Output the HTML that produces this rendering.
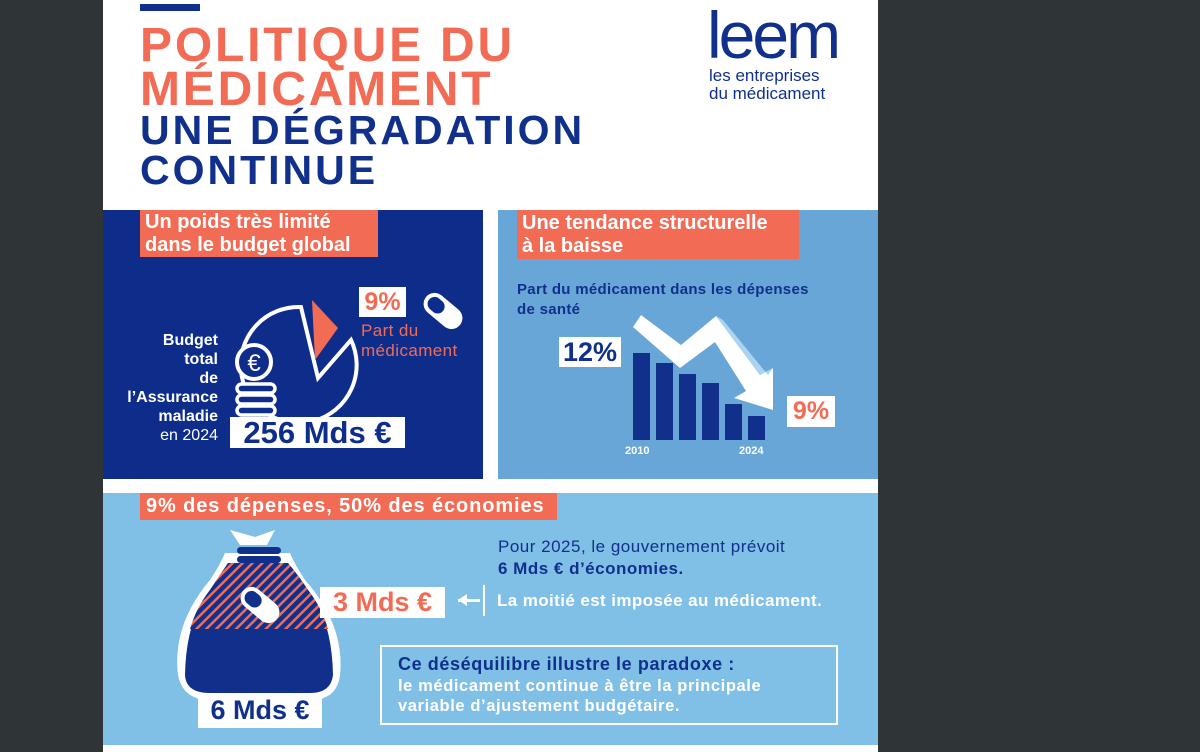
<!DOCTYPE html>
<html><head><meta charset="utf-8"><style>
*{margin:0;padding:0;box-sizing:border-box}
body{width:1200px;height:752px;background:#2f3437;position:relative;overflow:hidden;font-family:"Liberation Sans",sans-serif}
.a{position:absolute}
.page{left:103px;top:0;width:775px;height:752px;background:#fff}
.t{font-weight:bold;line-height:1;white-space:nowrap}
.wb{background:#fff;font-weight:bold;line-height:1;text-align:center}
</style></head><body>
<div class="a page"></div>
<div class="a" style="left:140px;top:4px;width:60px;height:7px;background:#10308c"></div>
<div class="a t" style="left:140px;top:22px;font-size:48px;color:#f26b55;letter-spacing:2.8px">POLITIQUE DU</div>
<div class="a t" style="left:140px;top:66px;font-size:48px;color:#f26b55;letter-spacing:2.8px">MÉDICAMENT</div>
<div class="a t" style="left:140px;top:110px;font-size:41px;color:#10308c;letter-spacing:3px">UNE DÉGRADATION</div>
<div class="a t" style="left:140px;top:150px;font-size:41px;color:#10308c;letter-spacing:3px">CONTINUE</div>
<div class="a" style="left:707px;top:2px;font-size:66px;color:#10308c;letter-spacing:-3px;line-height:1">leem</div>
<div class="a" style="left:709px;top:67px;font-size:17px;color:#10308c;line-height:18px">les entreprises<br>du médicament</div>

<!-- box1 -->
<div class="a" style="left:103px;top:210px;width:380px;height:269px;background:#0e2d8b"></div>
<div class="a" style="left:140px;top:210px;width:238px;height:47px;background:#f26b55"></div>
<div class="a t" style="left:145px;top:211px;font-size:20px;color:#fff;line-height:23px">Un poids très limité<br>dans le budget global</div>
<div class="a" style="left:110px;top:331px;width:108px;text-align:right;color:#fff;font-size:16px;line-height:19px"><b>Budget<br>total<br>de<br>l’Assurance<br>maladie</b><br>en 2024</div>
<svg class="a" style="left:103px;top:210px" width="380" height="269">
<path d="M198 97 A58 58 0 1 0 248 130 L215 168 Z" fill="none" stroke="#fff" stroke-width="4"/>
<path d="M209 90 L235 118 L212 150 Z" fill="#f26b55"/>
<circle cx="151" cy="152" r="17" fill="#0e2d8b" stroke="#fff" stroke-width="4"/>
<text x="151" y="161" font-size="24" fill="#fff" text-anchor="middle" font-family="Liberation Sans">€</text>
<g fill="#0e2d8b" stroke="#fff" stroke-width="3.5"><rect x="134" y="174" width="38" height="9" rx="4.5"/><rect x="134" y="185" width="38" height="9" rx="4.5"/><rect x="134" y="196" width="38" height="9" rx="4.5"/></g>
<g transform="translate(340,101) rotate(40)"><rect x="-22" y="-11" width="44" height="22" rx="11" fill="#fff"/><rect x="-18" y="-7" width="18" height="14" rx="7" fill="#0e2d8b"/></g>
</svg>
<div class="a wb" style="left:230px;top:417px;width:175px;height:31px;font-size:31px;color:#0e2d8b;line-height:31px">256 Mds €</div>
<div class="a wb" style="left:359px;top:287px;width:47px;height:30px;font-size:25px;color:#f26b55;line-height:30px">9%</div>
<div class="a" style="left:361px;top:321px;font-size:17px;line-height:20px;color:#f26b55;letter-spacing:.4px">Part du<br>médicament</div>

<!-- box2 -->
<div class="a" style="left:498px;top:210px;width:380px;height:269px;background:#68a6d8"></div>
<div class="a" style="left:517px;top:210px;width:282px;height:49px;background:#f26b55"></div>
<div class="a t" style="left:522px;top:212px;font-size:20px;color:#fff;line-height:23px">Une tendance structurelle<br>à la baisse</div>
<div class="a t" style="left:517px;top:280px;font-size:15px;color:#10308c;line-height:20px;letter-spacing:.3px">Part du médicament dans les dépenses<br>de santé</div>
<svg class="a" style="left:498px;top:210px" width="380" height="269">
<g fill="#10308c"><rect x="135" y="143" width="17" height="87"/><rect x="158" y="153" width="17" height="77"/><rect x="181" y="164" width="17" height="66"/><rect x="204" y="173" width="17" height="57"/><rect x="227" y="194" width="17" height="36"/><rect x="250" y="206" width="17" height="24"/></g>
<path d="M135 117 L143 105 L183 135 L218 106 L262 165 L275 158 L275 200 L236 188 L248 181 L217 132 L182 158 Z" fill="#fff"/>
<path d="M218 106 L225 110 L270 165 L275 158 L262 165 Z" fill="#a8d4f0"/>
<text x="127" y="244" font-size="11" font-weight="bold" fill="#fff" font-family="Liberation Sans">2010</text>
<text x="241" y="244" font-size="11" font-weight="bold" fill="#fff" font-family="Liberation Sans">2024</text>
</svg>
<div class="a wb" style="left:559px;top:337px;width:62px;height:30px;font-size:27px;color:#10308c;line-height:30px">12%</div>
<div class="a wb" style="left:787px;top:396px;width:48px;height:31px;font-size:25px;color:#f26b55;line-height:31px">9%</div>

<!-- box3 -->
<div class="a" style="left:103px;top:493px;width:775px;height:252px;background:#80c0e6"></div>
<div class="a" style="left:140px;top:493px;width:417px;height:27px;background:#f26b55"></div>
<div class="a t" style="left:146px;top:495px;font-size:20px;color:#fff;line-height:23px;letter-spacing:.9px">9% des dépenses, 50% des économies</div>
<svg class="a" style="left:170px;top:525px" width="180" height="190">
<defs><pattern id="h" width="7" height="7" patternUnits="userSpaceOnUse" patternTransform="rotate(45)"><rect width="7" height="7" fill="#10308c"/><rect width="2.5" height="7" fill="#f26b55"/></pattern></defs>
<path d="M60 5 L85 12 L105 5 L97 20 L70 20 Z" fill="#fff"/>
<path d="M55 28 Q50 40 40 55 Q2 100 8 150 Q13 175 40 175 L140 175 Q167 175 170 150 Q175 100 135 55 Q125 40 120 28 Z" fill="#fff"/>
<path d="M58 38 L118 38 Q128 50 138 65 Q162 95 163 150 Q161 168 140 168 L40 168 Q16 168 15 150 Q16 95 40 65 Q50 50 58 38 Z" fill="#10308c"/>
<path d="M58 38 L118 38 Q128 50 138 65 Q152 83 158 104 L20 104 Q26 83 40 65 Q50 50 58 38 Z" fill="url(#h)"/>
<rect x="67" y="22" width="44" height="7" rx="3.5" fill="#10308c"/><rect x="67" y="31" width="44" height="7" rx="3.5" fill="#10308c"/>
<g transform="translate(90,80) rotate(40)"><rect x="-22" y="-11" width="44" height="22" rx="11" fill="#fff"/><rect x="-18" y="-7" width="18" height="14" rx="7" fill="#10308c"/></g>
</svg>
<div class="a wb" style="left:198px;top:693px;width:124px;height:35px;font-size:27px;color:#10308c;line-height:35px">6 Mds €</div>
<div class="a wb" style="left:320px;top:587px;width:125px;height:31px;font-size:27px;color:#f26b55;line-height:31px">3 Mds €</div>
<div class="a" style="left:458px;top:599px;width:22px;height:3px;background:#fff"></div>
<div class="a" style="left:458px;top:594px;width:0;height:0;border-right:9px solid #fff;border-top:6px solid transparent;border-bottom:6px solid transparent"></div>
<div class="a" style="left:483px;top:585px;width:2px;height:31px;background:#fff"></div>
<div class="a" style="left:498px;top:536px;font-size:17px;color:#10308c;line-height:22px;letter-spacing:.5px">Pour 2025, le gouvernement prévoit<br><b>6 Mds € d’économies.</b></div>
<div class="a t" style="left:497px;top:592px;font-size:17px;color:#fff;letter-spacing:.4px">La moitié est imposée au médicament.</div>
<div class="a" style="left:380px;top:645px;width:458px;height:80px;border:2px solid #fff"></div>
<div class="a t" style="left:398px;top:655px;font-size:18px;color:#10308c;letter-spacing:.6px">Ce déséquilibre illustre le paradoxe :</div>
<div class="a t" style="left:398px;top:676px;font-size:16.5px;color:#fff;line-height:20px;letter-spacing:.6px">le médicament continue à être la principale<br>variable d’ajustement budgétaire.</div>
</body></html>
